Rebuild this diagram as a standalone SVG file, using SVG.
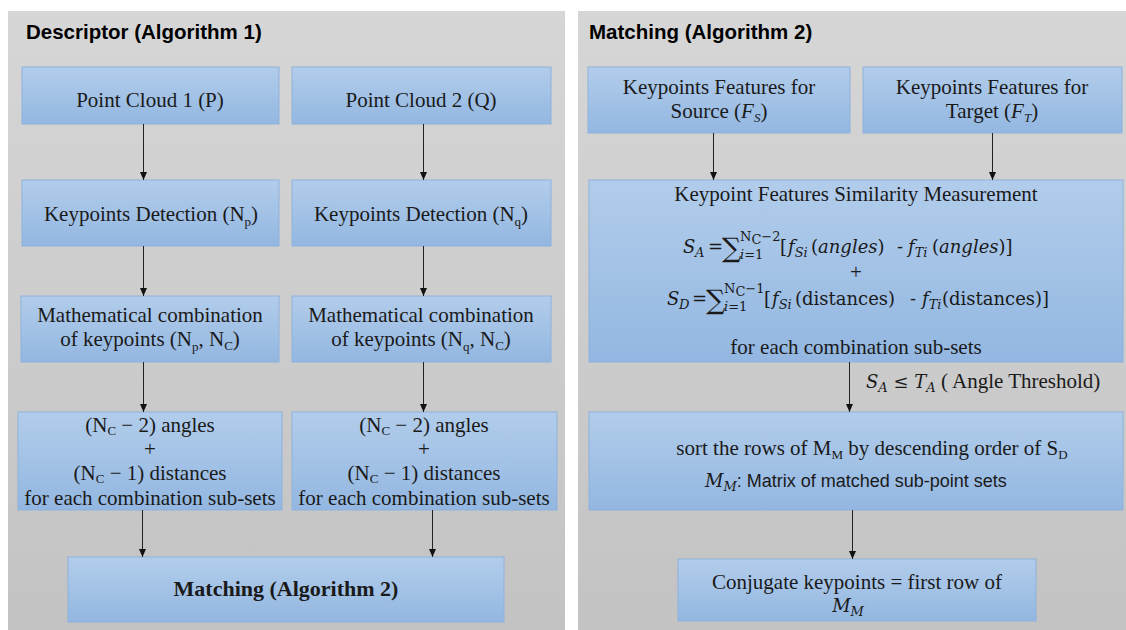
<svg xmlns="http://www.w3.org/2000/svg" width="1126" height="630" viewBox="0 0 1126 630">
<defs>
<linearGradient id="pg" x1="0" y1="0" x2="0" y2="1"><stop offset="0" stop-color="#d6d6d6"/><stop offset="1" stop-color="#c3c3c3"/></linearGradient>
<linearGradient id="bg" x1="0" y1="0" x2="0" y2="1"><stop offset="0" stop-color="#b2cdeb"/><stop offset="1" stop-color="#93b7e1"/></linearGradient>
<marker id="ah" markerWidth="8" markerHeight="8" viewBox="0 0 8 8" refX="8" refY="4" orient="auto" markerUnits="userSpaceOnUse"><path d="M0,0.5 L8,4 L0,7.5 z" fill="#111"/></marker>
<style>
.panel{fill:url(#pg)}
.box{fill:url(#bg);stroke:#8eb1dc;stroke-width:1}
.title{font-family:"Liberation Sans",Arial,sans-serif;font-weight:bold;font-size:20.5px;fill:#000}
.t{font-family:"Liberation Serif","Times New Roman",serif;font-size:21px;fill:#1a1a1a;text-anchor:middle}
.tb{font-family:"Liberation Serif","Times New Roman",serif;font-size:22px;font-weight:bold;fill:#1a1a1a;text-anchor:middle}
.m{font-family:"DejaVu Serif",serif;font-size:18px;fill:#1a1a1a}
.sb{font-size:13px}
.sg{font-size:27px}
.i{font-style:italic}
.sans{font-family:"Liberation Sans",Arial,sans-serif;font-size:18px}
.conn line{stroke:#222;stroke-width:1;marker-end:url(#ah)}
</style>
</defs>
<rect width="1126" height="630" fill="#fff"/>
<rect class="panel" x="8" y="11" width="557" height="619"/>
<rect class="panel" x="578" y="11" width="548" height="619"/>
<text class="title" x="26" y="39">Descriptor (Algorithm 1)</text>
<text class="title" x="589" y="39">Matching (Algorithm 2)</text>

<g id="pc1"><rect class="box" x="22" y="67" width="257" height="57"/><text class="t" x="150" y="107">Point Cloud 1 (P)</text></g>
<g id="pc2"><rect class="box" x="292" y="67" width="259" height="57"/><text class="t" x="421" y="107">Point Cloud 2 (Q)</text></g>
<g id="kd1"><rect class="box" x="22" y="180" width="257" height="66"/><text class="t" x="151" y="221">Keypoints Detection (N<tspan class="sb" dy="5">p</tspan><tspan dy="-5">)</tspan></text></g>
<g id="kd2"><rect class="box" x="292" y="180" width="259" height="66"/><text class="t" x="421" y="221">Keypoints Detection (N<tspan class="sb" dy="5">q</tspan><tspan dy="-5">)</tspan></text></g>
<g id="mc1"><rect class="box" x="21" y="296" width="258" height="66"/><text class="t" x="150" y="322">Mathematical combination</text><text class="t" x="150" y="346">of keypoints (N<tspan class="sb" dy="5">p</tspan><tspan dy="-5">, N</tspan><tspan class="sb" dy="4">C</tspan><tspan dy="-4">)</tspan></text></g>
<g id="mc2"><rect class="box" x="292" y="296" width="259" height="66"/><text class="t" x="421" y="322">Mathematical combination</text><text class="t" x="421" y="346">of keypoints (N<tspan class="sb" dy="5">q</tspan><tspan dy="-5">, N</tspan><tspan class="sb" dy="4">C</tspan><tspan dy="-4">)</tspan></text></g>
<g id="ad1"><rect class="box" x="18" y="412" width="264" height="98"/>
<text class="t" x="150" y="432">(N<tspan class="sb" dy="3">C</tspan><tspan dy="-3"> − 2) angles</tspan></text>
<text class="t" x="150" y="456">+</text>
<text class="t" x="150" y="480">(N<tspan class="sb" dy="3">C</tspan><tspan dy="-3"> − 1) distances</tspan></text>
<text class="t" x="150" y="505">for each combination sub-sets</text></g>
<g id="ad2"><rect class="box" x="292" y="412" width="265" height="98"/>
<text class="t" x="424" y="432">(N<tspan class="sb" dy="3">C</tspan><tspan dy="-3"> − 2) angles</tspan></text>
<text class="t" x="424" y="456">+</text>
<text class="t" x="424" y="480">(N<tspan class="sb" dy="3">C</tspan><tspan dy="-3"> − 1) distances</tspan></text>
<text class="t" x="424" y="505">for each combination sub-sets</text></g>
<g id="match"><rect class="box" x="68" y="557" width="436" height="65"/><text class="tb" x="286" y="596">Matching (Algorithm 2)</text></g>

<g id="src"><rect class="box" x="588" y="67" width="262" height="66"/><text class="t" x="719" y="94">Keypoints Features for</text><text class="t" x="719" y="118">Source (<tspan class="i">F</tspan><tspan class="sb i" dy="4">S</tspan><tspan dy="-4">)</tspan></text></g>
<g id="tgt"><rect class="box" x="863" y="67" width="259" height="66"/><text class="t" x="992" y="94">Keypoints Features for</text><text class="t" x="992" y="118">Target (<tspan class="i">F</tspan><tspan class="sb i" dy="4">T</tspan><tspan dy="-4">)</tspan></text></g>
<g id="sim"><rect class="box" x="589" y="180" width="534" height="182"/>
<text class="t" x="856" y="201">Keypoint Features Similarity Measurement</text>
<text class="m"><tspan x="683" y="253" class="i">S</tspan><tspan x="695" y="257" class="sb i">A</tspan><tspan x="708" y="253">=</tspan><tspan x="722" y="257" class="sg">∑</tspan><tspan x="740" y="259" class="sb i">i</tspan><tspan class="sb">=1</tspan><tspan x="740" y="241" class="sb">N</tspan><tspan class="sb" font-size="9" dy="3">C</tspan><tspan class="sb" dy="-3">−2</tspan><tspan x="780" y="253">[</tspan><tspan x="788" class="i">f</tspan><tspan class="sb i" dy="4">Si</tspan><tspan x="811" y="253">(</tspan><tspan class="i">angles</tspan><tspan>)</tspan><tspan x="897">-</tspan><tspan x="908" class="i">f</tspan><tspan class="sb i" dy="4">Ti</tspan><tspan x="932" y="253">(</tspan><tspan class="i">angles</tspan><tspan>)]</tspan></text>
<text class="t" x="856" y="279">+</text>
<text class="m"><tspan x="667" y="305" class="i">S</tspan><tspan x="679" y="309" class="sb i">D</tspan><tspan x="692" y="305">=</tspan><tspan x="706" y="309" class="sg">∑</tspan><tspan x="724" y="311" class="sb i">i</tspan><tspan class="sb">=1</tspan><tspan x="724" y="293" class="sb">N</tspan><tspan class="sb" font-size="9" dy="3">C</tspan><tspan class="sb" dy="-3">−1</tspan><tspan x="764" y="305">[</tspan><tspan x="772" class="i">f</tspan><tspan class="sb i" dy="4">Si</tspan><tspan x="795" y="305">(distances)</tspan><tspan x="910">-</tspan><tspan x="922" class="i">f</tspan><tspan class="sb i" dy="4">Ti</tspan><tspan x="942" y="305">(distances)]</tspan></text>
<text class="t" x="856" y="354">for each combination sub-sets</text></g>
<g id="sort"><rect class="box" x="589" y="412" width="534" height="98"/>
<text class="t" x="872" y="455">sort the rows of M<tspan class="sb" dy="4">M</tspan><tspan dy="-4"> by descending order of S</tspan><tspan class="sb" dy="4">D</tspan></text>
<text x="705" y="487"><tspan class="m i">M</tspan><tspan class="m i sb" dy="4">M</tspan><tspan class="sans" fill="#1a1a1a" dy="-4">: Matrix of matched sub-point sets</tspan></text></g>
<g id="conj"><rect class="box" x="678" y="559" width="358" height="62"/>
<text class="t" x="857" y="589">Conjugate keypoints = first row of</text>
<text class="m" x="848" y="612" text-anchor="middle"><tspan class="i">M</tspan><tspan class="sb i" dy="4">M</tspan></text></g>

<text id="thr" x="866" y="388"><tspan class="m i">S</tspan><tspan class="m sb i" dy="4">A</tspan><tspan class="m" dy="-4"> ≤ </tspan><tspan class="m i">T</tspan><tspan class="m sb i" dy="4">A</tspan><tspan class="t" style="text-anchor:start" dy="-4"> ( Angle Threshold)</tspan></text>

<g class="conn" id="connectors">
<line x1="143.5" y1="124" x2="143.5" y2="180"/>
<line x1="423.5" y1="124" x2="423.5" y2="180"/>
<line x1="143.5" y1="246" x2="143.5" y2="296"/>
<line x1="423.5" y1="246" x2="423.5" y2="296"/>
<line x1="143.5" y1="362" x2="143.5" y2="412"/>
<line x1="423.5" y1="362" x2="423.5" y2="412"/>
<line x1="142.5" y1="510" x2="142.5" y2="557"/>
<line x1="432.5" y1="510" x2="432.5" y2="557"/>
<line x1="713.5" y1="133" x2="713.5" y2="180"/>
<line x1="992.5" y1="133" x2="992.5" y2="180"/>
<line x1="849.5" y1="362" x2="849.5" y2="412"/>
<line x1="852.5" y1="510" x2="852.5" y2="559"/>
</g>
</svg>
